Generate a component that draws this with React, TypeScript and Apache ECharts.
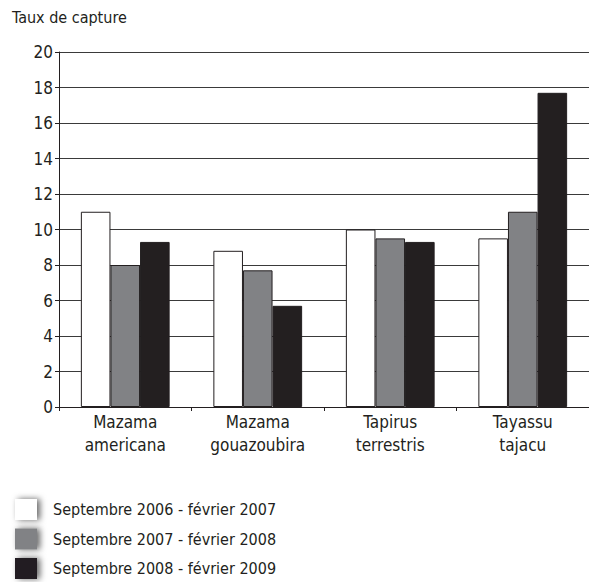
import React, { useEffect, useRef } from "react";
import * as echarts from "echarts";

const categories = ["Mazama\namericana", "Mazama\ngouazoubira", "Tapirus\nterrestris", "Tayassu\ntajacu"];
const seriesNames = [
  "Septembre 2006 - février 2007",
  "Septembre 2007 - février 2008",
  "Septembre 2008 - février 2009",
];
const values2006 = [11.0, 8.8, 10.0, 9.5];
const values2007 = [8.0, 7.7, 9.5, 11.0];
const values2008 = [9.3, 5.7, 9.3, 17.7];
const colors = ["#ffffff", "#818285", "#231f20"];
const yTitle = "Taux de capture";

const FONT = "'DejaVu Sans Condensed', 'Open Sans', sans-serif";

export default function App() {
  const ref = useRef<HTMLDivElement>(null);
  useEffect(() => {
    if (!ref.current) return;
    const chart = echarts.init(ref.current, null, { renderer: "svg" });
    const data = [values2006, values2007, values2008];
    chart.setOption({
      animation: false,
      backgroundColor: "#ffffff",
      textStyle: { fontFamily: FONT, color: "#231f20" },
      title: {
        text: yTitle,
        left: 7,
        top: 4,
        textStyle: { fontFamily: FONT, fontSize: 16, fontWeight: "normal", color: "#231f20" },
      },
      legend: seriesNames.map((name, i) => ({
        orient: "vertical",
        left: 10,
        top: 494 + i * 29.5,
        itemWidth: 22,
        itemHeight: 21,
        icon: "rect",
        data: [name],
        textStyle: { fontFamily: FONT, fontSize: 16, color: "#231f20", padding: [0, 0, 0, 11] },
        itemStyle: {
          borderColor: "transparent",
          borderWidth: 0,
          shadowBlur: 6,
          shadowColor: "rgba(0,0,0,0.6)",
          shadowOffsetX: 3,
          shadowOffsetY: 0,
        },
      })),
      grid: { left: 59, right: 0, top: 52, bottom: 175, containLabel: false },
      xAxis: {
        type: "category",
        data: categories,
        axisLine: { lineStyle: { color: "#231f20", width: 1 } },
        axisTick: { show: true, length: 4, lineStyle: { color: "#231f20" } },
        axisLabel: { fontFamily: FONT, fontSize: 17, color: "#231f20", lineHeight: 23, margin: 3 },
      },
      yAxis: {
        type: "value",
        min: 0,
        max: 20,
        interval: 2,
        axisLine: { show: true, lineStyle: { color: "#231f20", width: 1 } },
        axisTick: { show: true, length: 4, lineStyle: { color: "#231f20" } },
        axisLabel: { fontFamily: FONT, fontSize: 17, color: "#231f20", margin: 6 },
        splitLine: { show: true, lineStyle: { color: "#3a3a3a", width: 1 } },
      },
      series: seriesNames.map((name, i) => ({
        name,
        type: "bar",
        data: data[i],
        barGap: "0%",
        barCategoryGap: "33%",
        itemStyle: { color: colors[i], borderColor: "#231f20", borderWidth: 1 },
      })),
    });
    return () => chart.dispose();
  }, []);
  return <div ref={ref} style={{ position: "fixed", left: 0, top: 0, width: 589, height: 582 }} />;
}
